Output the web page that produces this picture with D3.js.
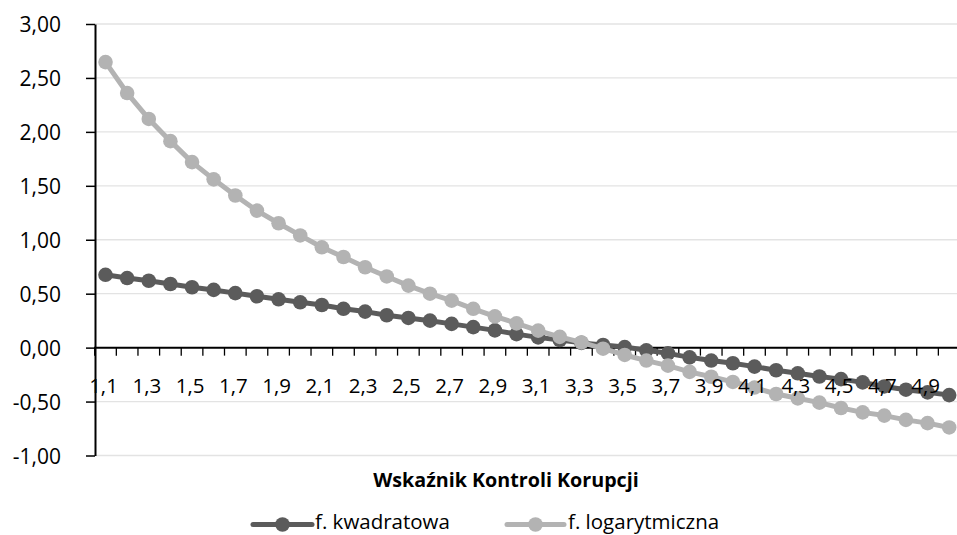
<!DOCTYPE html>
<html><head><meta charset="utf-8">
<script src="https://cdn.jsdelivr.net/npm/d3@7"></script>
<style>body{margin:0;background:#fff}svg{display:block}</style>
</head><body>
<svg id="c" width="957" height="535"></svg>
<script>
const categories = ["1,1","1,2","1,3","1,4","1,5","1,6","1,7","1,8","1,9","2,0",
  "2,1","2,2","2,3","2,4","2,5","2,6","2,7","2,8","2,9","3,0",
  "3,1","3,2","3,3","3,4","3,5","3,6","3,7","3,8","3,9","4,0",
  "4,1","4,2","4,3","4,4","4,5","4,6","4,7","4,8","4,9","5,0"];
const kwadratowa = [0.675,0.645,0.62,0.59,0.56,0.535,0.505,0.476,0.448,0.42,
  0.395,0.36,0.334,0.30,0.275,0.25,0.22,0.19,0.16,0.125,
  0.095,0.07,0.044,0.025,0.005,-0.025,-0.053,-0.09,-0.12,-0.145,
  -0.176,-0.21,-0.238,-0.268,-0.292,-0.322,-0.36,-0.39,-0.415,-0.44];
const logarytmiczna = [2.647,2.36,2.12,1.914,1.72,1.56,1.41,1.27,1.153,1.04,
  0.93,0.84,0.745,0.66,0.575,0.50,0.436,0.36,0.29,0.225,
  0.158,0.10,0.048,-0.01,-0.068,-0.12,-0.167,-0.225,-0.27,-0.318,
  -0.37,-0.43,-0.47,-0.51,-0.56,-0.60,-0.63,-0.67,-0.70,-0.74];
const yTicks = [-1,-0.5,0,0.5,1,1.5,2,2.5,3];
const seriesNames = ["f. kwadratowa","f. logarytmiczna"];
const xTitle = "Wskaźnik Kontroli Korupcji";

const colors = ["#5b5b5b","#b3b3b3"];
const font = "'Open Sans', sans-serif";
const svg = d3.select("#c");
const x = d3.scaleBand().domain(categories).range([94.7, 960]).padding(0);
const y = d3.scaleLinear().domain([-1,3]).range([455.5,24]);
const cx = d => x(d) + x.bandwidth()/2;
const fmt = v => v.toFixed(2).replace(".", ",");

// gridlines
svg.append("g").selectAll("line").data(yTicks).join("line")
  .attr("x1",95).attr("x2",957).attr("y1",d=>y(d)).attr("y2",d=>y(d))
  .attr("stroke","#e3e3e3").attr("stroke-width",1.3);

// y axis
const yAxis = svg.append("g").attr("transform","translate(95,0)")
  .call(d3.axisLeft(y).tickValues(yTicks).tickSize(9).tickSizeOuter(0).tickFormat(fmt).tickPadding(25));
yAxis.select(".domain").attr("stroke","#000").attr("stroke-width",2);
yAxis.selectAll(".tick line").attr("stroke","#000").attr("stroke-width",1.5);
yAxis.selectAll("text").attr("font-family",font).attr("font-size",21).attr("fill","#000").attr("dy","0.36em");

// x axis line + ticks (at zero)
const xg = svg.append("g").attr("transform",`translate(0,${y(0)})`);
xg.append("line").attr("x1",94).attr("x2",957).attr("y1",0).attr("y2",0).attr("stroke","#000").attr("stroke-width",2);
xg.selectAll("line.t").data(categories).join("line").attr("class","t")
  .attr("x1",d=>x(d)).attr("x2",d=>x(d)).attr("y1",0).attr("y2",8)
  .attr("stroke","#000").attr("stroke-width",1.3);

// series
const line = d3.line().x((d,i)=>cx(categories[i])).y(d=>y(d));
[kwadratowa, logarytmiczna].forEach((data,si)=>{
  const g = svg.append("g");
  g.append("path").datum(data).attr("d",line).attr("fill","none")
    .attr("stroke",colors[si]).attr("stroke-width",5).attr("stroke-linejoin","round");
  g.selectAll("circle").data(data).join("circle")
    .attr("cx",(d,i)=>cx(categories[i])).attr("cy",d=>y(d)).attr("r",7.3)
    .attr("fill",colors[si]);
});

// x labels (every other)
svg.append("g").selectAll("text").data(categories.filter((d,i)=>i%2===0)).join("text")
  .attr("x",d=>cx(d)-2).attr("y",393).attr("text-anchor","middle")
  .attr("font-family",font).attr("font-size",20.5).attr("fill","#000").text(d=>d);

// axis title
svg.append("text").attr("x",506).attr("y",487).attr("text-anchor","middle")
  .attr("font-family",font).attr("font-size",19.7).attr("font-weight","bold").attr("fill","#000").text(xTitle);

// legend
const leg = [{x0:253,x1:312,text:315},{x0:507,x1:564,text:568}];
leg.forEach((l,i)=>{
  const g = svg.append("g");
  g.append("line").attr("x1",l.x0).attr("x2",l.x1).attr("y1",524.5).attr("y2",524.5)
    .attr("stroke",colors[i]).attr("stroke-width",5).attr("stroke-linecap","round");
  g.append("circle").attr("cx",(l.x0+l.x1)/2).attr("cy",524.5).attr("r",7.3).attr("fill",colors[i]);
  g.append("text").attr("x",l.text).attr("y",529).attr("font-family",font).attr("font-size",20.5)
    .attr("fill","#000").text(seriesNames[i]);
});
</script>
</body></html>
